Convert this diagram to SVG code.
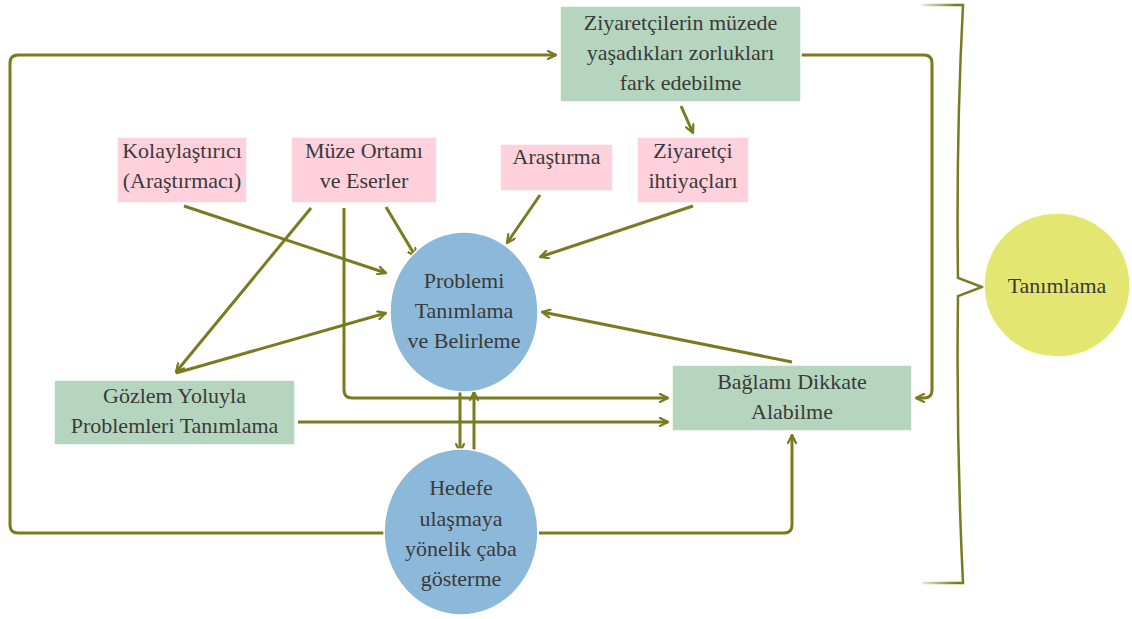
<svg xmlns="http://www.w3.org/2000/svg" width="1132" height="619" viewBox="0 0 1132 619">
<defs>
<style>
.pink{fill:#ffd1dc;stroke:#fff;stroke-width:1.5}
.green{fill:#b6d5bf;stroke:#fff;stroke-width:1.5}
.blue{fill:#8cb9d9;stroke:#fff;stroke-width:1.5}
.yellow{fill:#e3e670;stroke:#fffff0;stroke-width:1.5}
text{font-family:'Liberation Serif','Times New Roman','DejaVu Serif',serif;font-size:22px;fill:#3a3a3a;text-anchor:middle}
.c{fill:none;stroke:#7a7a1e;stroke-width:3;stroke-linejoin:round}
</style>
<marker id="ah" viewBox="0 0 10 10" refX="9" refY="5" markerWidth="10" markerHeight="10" markerUnits="userSpaceOnUse" orient="auto">
<path d="M1,1 L9,5 L1,9" fill="none" stroke="#7a7a1e" stroke-width="2.2" stroke-linecap="round" stroke-linejoin="round"/>
</marker>
<linearGradient id="bg" gradientUnits="userSpaceOnUse" x1="922" y1="0" x2="956" y2="0">
<stop offset="0" stop-color="#7a7a1e" stop-opacity="0.15"/>
<stop offset="1" stop-color="#7a7a1e"/>
</linearGradient>
</defs>
<rect width="1132" height="619" fill="#fff"/>

<g id="connectors">
<path class="c" d="M384,533 H18 Q10,533 10,525 V63 Q10,55 18,55 H556" marker-end="url(#ah)"/>
<path class="c" d="M801,55 H924 Q932,55 932,63 V390 Q932,398 924,398 H916" marker-end="url(#ah)"/>
<path class="c" d="M681,106 L693,133" marker-end="url(#ah)"/>
<path class="c" d="M184,206 L386,273" marker-end="url(#ah)"/>
<path class="c" d="M311,208 L176,372" marker-end="url(#ah)"/>
<path class="c" d="M344,208 V390 Q344,398 352,398 H668" marker-end="url(#ah)"/>
<path class="c" d="M386,207 L416,257" marker-end="url(#ah)"/>
<path class="c" d="M540,195 L507,243" marker-end="url(#ah)"/>
<path class="c" d="M693,206 L540,257" marker-end="url(#ah)"/>
<path class="c" d="M176,373 L386,313" marker-end="url(#ah)"/>
<path class="c" d="M792,362 L542,312" marker-end="url(#ah)"/>
<path class="c" d="M298,422 H668" marker-end="url(#ah)"/>
<path class="c" d="M460,392 V452" marker-end="url(#ah)"/>
<path class="c" d="M474,452 V392" marker-end="url(#ah)"/>
<path class="c" d="M539,533 H784 Q792,533 792,525 V435" marker-end="url(#ah)"/>
</g>

<g id="n_ziyaretcilerin">
<rect class="green" x="560" y="6" width="241" height="96"/>
<text x="680.5" y="30">Ziyaretçilerin müzede</text>
<text x="680.5" y="60">yaşadıkları zorlukları</text>
<text x="680.5" y="90">fark edebilme</text>
</g>

<g id="n_kolaylastirici">
<rect class="pink" x="117" y="137" width="130" height="66"/>
<text x="182" y="158">Kolaylaştırıcı</text>
<text x="182" y="188">(Araştırmacı)</text>
</g>

<g id="n_muze">
<rect class="pink" x="291" y="137" width="146" height="66"/>
<text x="364" y="158">Müze Ortamı</text>
<text x="364" y="188">ve Eserler</text>
</g>

<g id="n_arastirma">
<rect class="pink" x="500" y="144" width="113" height="47"/>
<text x="556.5" y="164">Araştırma</text>
</g>

<g id="n_ziyaretci">
<rect class="pink" x="637" y="137" width="112" height="66"/>
<text x="693" y="158">Ziyaretçi</text>
<text x="693" y="188">ihtiyaçları</text>
</g>

<g id="n_problemi">
<ellipse class="blue" cx="464" cy="312" rx="74" ry="80"/>
<text x="464" y="288">Problemi</text>
<text x="464" y="318">Tanımlama</text>
<text x="464" y="348">ve Belirleme</text>
</g>

<g id="n_gozlem">
<rect class="green" x="54" y="380" width="241" height="65"/>
<text x="174.5" y="403">Gözlem Yoluyla</text>
<text x="174.5" y="433">Problemleri Tanımlama</text>
</g>

<g id="n_baglami">
<rect class="green" x="672" y="365" width="240" height="66"/>
<text x="792" y="389">Bağlamı Dikkate</text>
<text x="792" y="419">Alabilme</text>
</g>

<g id="n_hedefe">
<ellipse class="blue" cx="461" cy="532" rx="77" ry="83"/>
<text x="461" y="495">Hedefe</text>
<text x="461" y="526">ulaşmaya</text>
<text x="461" y="556">yönelik çaba</text>
<text x="461" y="586">gösterme</text>
</g>

<g id="brace">
<path d="M922,5 H963 Q956,140 958,278 L982,287 L958,296 Q956,440 963,583 H922" fill="none" stroke="url(#bg)" stroke-width="2.5"/>
</g>

<g id="n_tanimlama">
<ellipse class="yellow" cx="1057" cy="285" rx="73" ry="72"/>
<text x="1057" y="293">Tanımlama</text>
</g>
</svg>
